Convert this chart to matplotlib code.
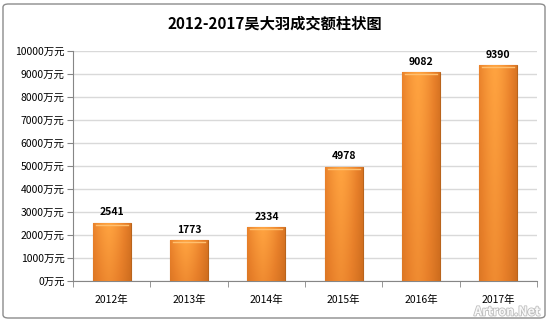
import numpy as np
import matplotlib
matplotlib.use("Agg")
import matplotlib.pyplot as plt
import matplotlib.patheffects as pe
from matplotlib.patches import FancyBboxPatch
from matplotlib.colors import LinearSegmentedColormap

plt.rcParams['font.family'] = ['Noto Sans CJK SC', 'DejaVu Sans']

title = "2012-2017吴大羽成交额柱状图"
years = ["2012年", "2013年", "2014年", "2015年", "2016年", "2017年"]
values = [2541, 1773, 2334, 4978, 9082, 9390]
yticks = [0, 1000, 2000, 3000, 4000, 5000, 6000, 7000, 8000, 9000, 10000]
ytick_labels = [f"{v}万元" for v in yticks]

fig = plt.figure(figsize=(5.5, 3.21), dpi=100)
fig.patch.set_facecolor("white")

# chart border
border = FancyBboxPatch((3/550, 3/321), 542/550, 314/321,
                        boxstyle="round,pad=0,rounding_size=0.01",
                        transform=fig.transFigure, fill=False,
                        edgecolor="#8C8C8C", linewidth=1.0)
fig.patches.append(border)

ax = fig.add_axes([73/550, 1-281/321, (537-73)/550, (281-51)/321])
ax.set_xlim(-0.5, len(years)-0.5)
ax.set_ylim(0, 10000)

x = np.arange(len(years))
width = 0.49
bars = ax.bar(x, values, width=width, color="#F58E2C", edgecolor="#B9641C",
              linewidth=0.8, zorder=3)

# gradient fill
h = np.linspace(0, 1, 64)
hor = 1 - 0.55*np.abs(h - 0.42)**1.5*2
cmap = LinearSegmentedColormap.from_list("og", ["#C9691C", "#E8802A", "#FFA340"])
for b in bars:
    x0, w, hh = b.get_x(), b.get_width(), b.get_height()
    vert = np.linspace(0.78, 1.0, 64)[:, None]
    img = np.clip(hor[None, :]*vert, 0, 1)
    im = ax.imshow(img, extent=(x0, x0+w, 0, hh), origin="lower",
                   cmap=cmap, vmin=0.35, vmax=1.0, aspect="auto", zorder=3.5,
                   interpolation="bilinear")
    im.set_clip_path(b)
    ax.plot([x0+w*0.08, x0+w*0.92], [hh-90, hh-90], color="#FFC070",
            linewidth=1.0, zorder=4)
    ax.text(x0+w/2, hh+220, str(int(hh)), ha="center", va="bottom",
            fontsize=7.5, fontweight="bold", color="black", zorder=5)

ax.set_xlim(-0.5, len(years)-0.5)
ax.set_yticks(yticks)
ax.set_yticklabels(ytick_labels, fontsize=7.5)
ax.set_xticks(x)
ax.set_xticklabels(years, fontsize=7.5)
ax.set_xticks(np.arange(-0.5, len(years)), minor=True)
ax.tick_params(axis="x", which="major", length=0, pad=10)
ax.tick_params(axis="x", which="minor", length=4, color="#868686", direction="out")
ax.tick_params(axis="y", length=4, color="#868686", direction="out", pad=2)
ax.grid(axis="y", color="#D9D9D9", linewidth=1.0, zorder=0)
ax.set_axisbelow(True)
for s in ["top", "right"]:
    ax.spines[s].set_visible(False)
for s in ["left", "bottom"]:
    ax.spines[s].set_color("#868686")
    ax.spines[s].set_linewidth(0.8)

fig.text(0.5, 1-24/321, title, ha="center", va="center", fontsize=11,
         fontweight="bold", color="black")

# watermark
fig.text(540/550, 1-312/321, "Artron.Net", ha="right", va="center",
         fontsize=9, color="white", fontweight="bold", alpha=0.9,
         path_effects=[pe.withStroke(linewidth=1.2, foreground="#B8B8B8")],
         zorder=10)

fig.savefig("out.png", dpi=100, facecolor="white")
